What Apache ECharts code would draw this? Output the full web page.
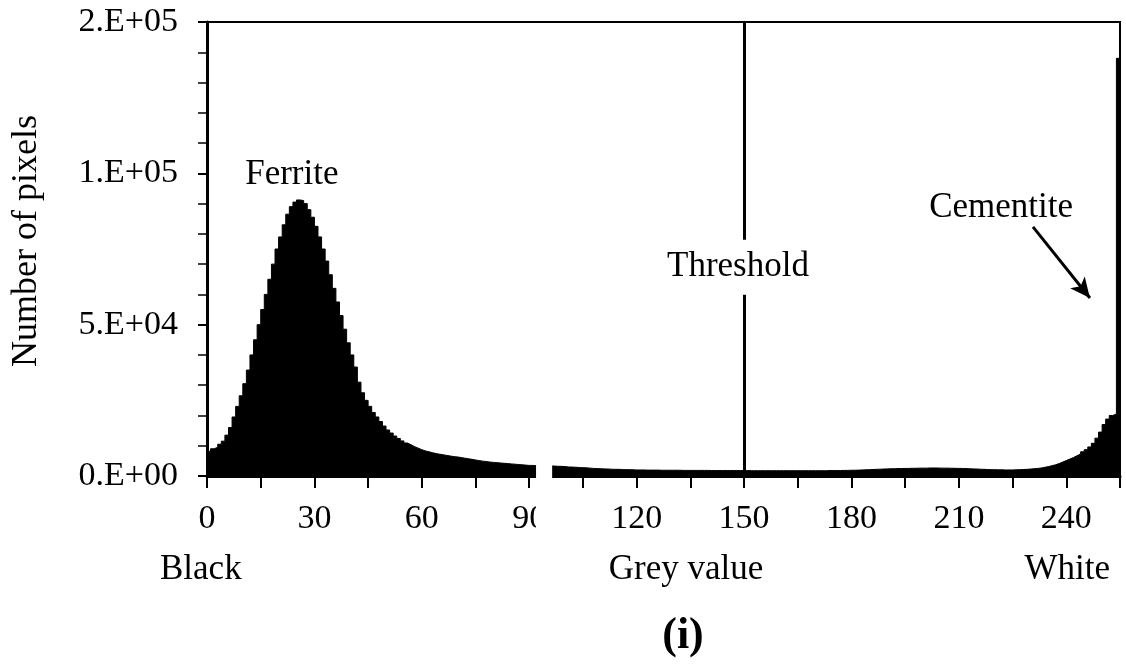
<!DOCTYPE html>
<html>
<head>
<meta charset="utf-8">
<script src="https://cdn.jsdelivr.net/npm/echarts@6/dist/echarts.min.js"></script>
<style>
  html, body { margin: 0; padding: 0; background: #fff; }
  #chart { width: 1126px; height: 671px; }
</style>
</head>
<body>
<div id="chart"></div>
<script>
  // grey level 0..255 -> pixel count
  const pixelCounts = [
    8000, 8200, 9000, 9500, 10500, 11500, 13500, 16000, 19500, 23000,
    26500, 30500, 35000, 40000, 45000, 50000, 55000, 60000, 65000, 70000,
    75000, 79000, 83000, 86500, 89000, 90500, 91200, 91000, 90000, 88000,
    85500, 82500, 79000, 75000, 71000, 66500, 62000, 57500, 53000, 48500,
    44000, 40000, 36000, 31000, 27500, 25000, 23000, 21000, 19500, 18000,
    16500, 15200, 14200, 13200, 12400, 11600, 10900, 10300, 9700, 9200,
    8700, 8300, 8000, 7700, 7400, 7200, 7000, 6800, 6600, 6400,
    6300, 6100, 5900, 5700, 5500, 5300, 5100, 4900, 4800, 4600,
    4500, 4400, 4300, 4200, 4100, 4000, 3900, 3800, 3700, 3600,
    3500, 3500, 3400, 3400, 3400, 3300, 3300, 3300, 3200, 3200,
    3100, 3000, 2950, 2900, 2800, 2750, 2700, 2600, 2500, 2450,
    2400, 2350, 2300, 2250, 2200, 2200, 2150, 2100, 2100, 2050,
    2000, 2000, 2000, 1950, 1950, 1950, 1950, 1900, 1900, 1900,
    1900, 1900, 1900, 1850, 1850, 1850, 1850, 1850, 1850, 1850,
    1850, 1800, 1800, 1800, 1800, 1800, 1800, 1800, 1800, 1800,
    1800, 1800, 1750, 1750, 1750, 1750, 1750, 1750, 1750, 1750,
    1750, 1750, 1750, 1750, 1750, 1750, 1750, 1750, 1750, 1750,
    1750, 1750, 1750, 1750, 1800, 1800, 1800, 1800, 1850, 1850,
    1900, 1900, 1950, 2000, 2050, 2100, 2150, 2200, 2250, 2300,
    2350, 2400, 2400, 2450, 2450, 2500, 2500, 2550, 2550, 2600,
    2600, 2600, 2650, 2650, 2650, 2600, 2600, 2600, 2550, 2550,
    2500, 2500, 2450, 2400, 2350, 2300, 2250, 2200, 2150, 2100,
    2100, 2050, 2050, 2000, 2000, 2000, 2050, 2100, 2150, 2200,
    2300, 2400, 2500, 2650, 2850, 3100, 3400, 3700, 4100, 4600,
    5100, 5600, 6100, 6700, 7300, 8000, 8700, 9600, 10800, 12500,
    14500, 17000, 18800, 20000, 20500, 138000
  ];
  const greyLevels = pixelCounts.map((_, i) => i);

  const xTickLabels = [0, 30, 60, 90, 120, 150, 180, 210, 240];
  const yTickLabels = ['0.E+00', '5.E+04', '1.E+05', '2.E+05'];

  const thresholdValue = 150;

  const FONT = '"Liberation Serif", "DejaVu Serif", serif';

  const chart = echarts.init(document.getElementById('chart'));

  const option = {
    animation: false,
    backgroundColor: '#fff',
    grid: {
      left: 207, top: 22, width: 913, height: 454,
      show: true,
      borderColor: '#000',
      borderWidth: 2
    },
    xAxis: {
      type: 'value',
      min: 0,
      max: 255,
      interval: 15,
      axisLine: { onZero: false, lineStyle: { color: '#000', width: 3 } },
      axisTick: { length: 12, lineStyle: { color: '#000', width: 2 } },
      axisLabel: {
        margin: 26,
        color: '#000',
        fontSize: 34,
        fontFamily: FONT,
        formatter: v => (xTickLabels.includes(v) ? String(v) : '')
      },
      splitLine: { show: false }
    },
    yAxis: {
      type: 'value',
      min: 0,
      max: 150000,
      interval: 50000,
      axisLine: { show: true, lineStyle: { color: '#000', width: 3 } },
      axisTick: { show: true, length: 9, lineStyle: { color: '#000', width: 2 } },
      minorTick: { show: true, splitNumber: 5, length: 9, lineStyle: { color: '#000', width: 1.5 } },
      axisLabel: {
        margin: 29,
        color: '#000',
        fontSize: 34,
        fontFamily: FONT,
        formatter: v => yTickLabels[Math.round(v / 50000)]
      },
      splitLine: { show: false },
      minorSplitLine: { show: false }
    },
    series: [
      {
        // histogram drawn as a stepped, filled outline (no seams between bins)
        type: 'line',
        step: 'start',
        data: greyLevels.map((g, i) => [g, pixelCounts[i]]),
        symbol: 'none',
        lineStyle: { color: '#000', width: 1 },
        areaStyle: { color: '#000', opacity: 1 },
        silent: true,
        markLine: {
          silent: true,
          animation: false,
          symbol: ['none', 'none'],
          label: { show: false },
          lineStyle: { color: '#000', width: 3, type: 'solid' },
          data: [
            { xAxis: thresholdValue },
            [
              { coord: [230.7, 82300], symbol: 'none' },
              { coord: [246.6, 58800], symbol: 'arrow', symbolSize: [14, 20] }
            ]
          ]
        }
      }
    ]
  };

  chart.setOption(option);

  // annotation texts, placed through the axes
  const px = (x, y) => chart.convertToPixel({ gridIndex: 0 }, [x, y]);
  const txt = (p, text, extra) => ({
    type: 'text',
    x: p[0], y: p[1], z: 100,
    style: Object.assign({
      text, fill: '#000', font: '35px ' + FONT,
      align: 'center', verticalAlign: 'middle'
    }, extra || {})
  });

  const gapL = px(91.9, 0)[0];
  const gapR = px(96.4, 0)[0];

  chart.setOption({
    graphic: [
      {
        type: 'rect', z: 100,
        shape: { x: gapL, y: 430, width: gapR - gapL, height: 115 },
        style: { fill: '#fff' }
      },
      txt(px(23.7, 99400), 'Ferrite'),
      txt(px(148.3, 69000), 'Threshold', { backgroundColor: '#fff', padding: [10, 2] }),
      txt(px(221.8, 88500), 'Cementite'),
      txt([160, 570], 'Black', { align: 'left' }),
      txt([686, 570], 'Grey value'),
      txt([1110, 570], 'White', { align: 'right' }),
      txt([683, 637], '(i)', { font: 'bold 44px ' + FONT }),
      {
        type: 'text', x: 27, y: 241, z: 100,
        rotation: Math.PI / 2,
        style: {
          text: 'Number of pixels', fill: '#000', font: '36px ' + FONT,
          align: 'center', verticalAlign: 'middle'
        }
      }
    ]
  });
</script>
</body>
</html>
